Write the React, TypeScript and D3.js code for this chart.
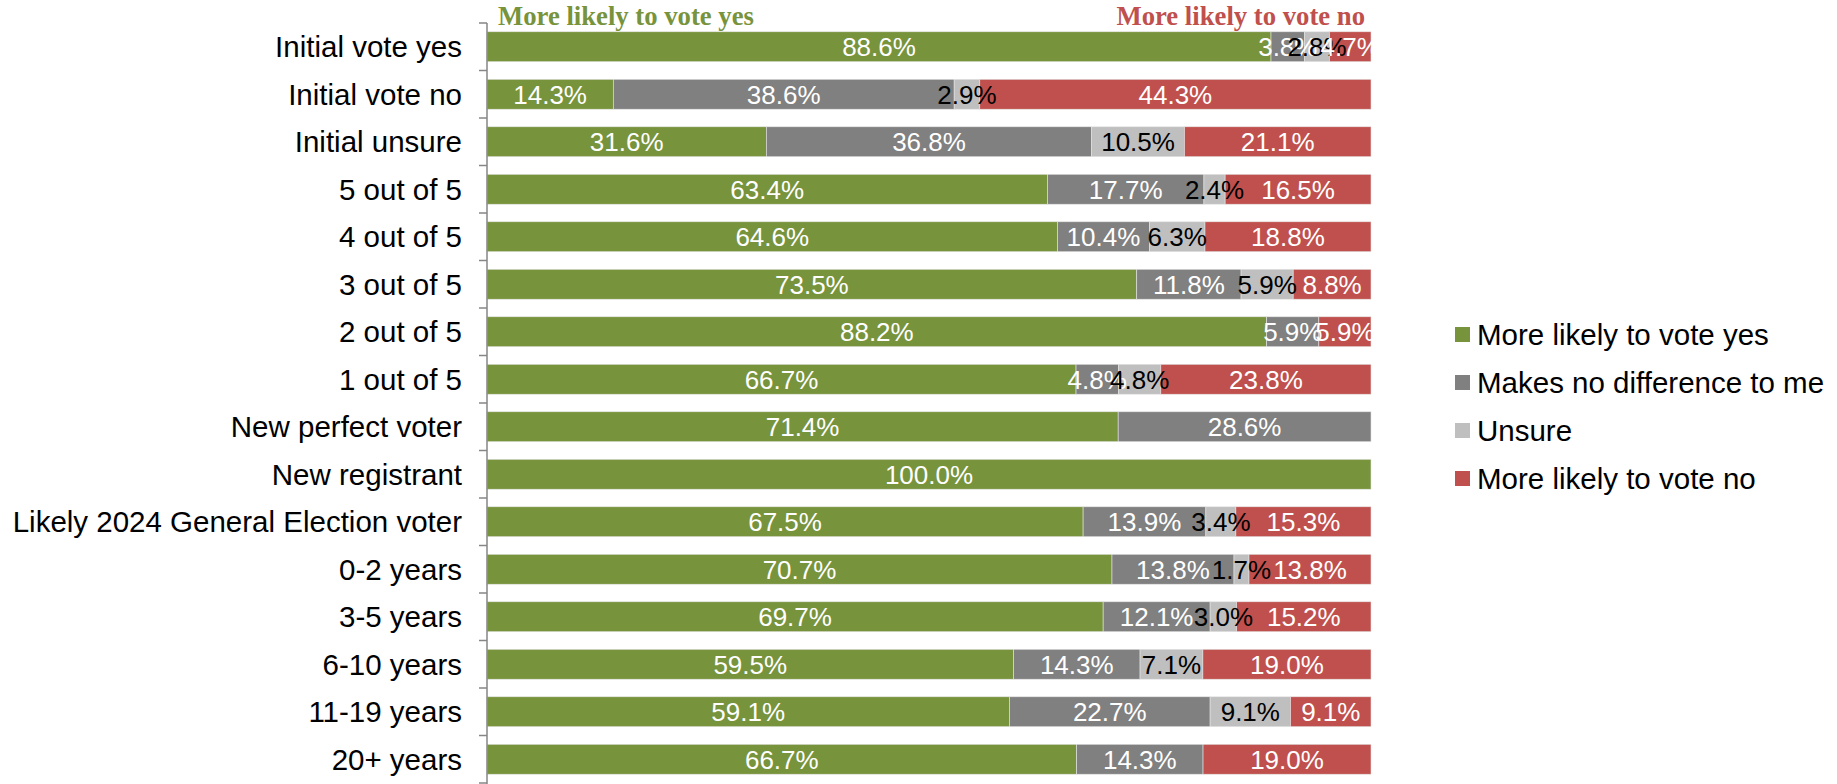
import React, { useEffect, useRef } from "react";
import * as d3 from "d3";

const categories = [
  "Initial vote yes",
  "Initial vote no",
  "Initial unsure",
  "5 out of 5",
  "4 out of 5",
  "3 out of 5",
  "2 out of 5",
  "1 out of 5",
  "New perfect voter",
  "New registrant",
  "Likely 2024 General Election voter",
  "0-2 years",
  "3-5 years",
  "6-10 years",
  "11-19 years",
  "20+ years",
];

const seriesNames = [
  "More likely to vote yes",
  "Makes no difference to me",
  "Unsure",
  "More likely to vote no",
];

const voteYes = [88.6, 14.3, 31.6, 63.4, 64.6, 73.5, 88.2, 66.7, 71.4, 100.0, 67.5, 70.7, 69.7, 59.5, 59.1, 66.7];
const noDifference = [3.8, 38.6, 36.8, 17.7, 10.4, 11.8, 5.9, 4.8, 28.6, 0, 13.9, 13.8, 12.1, 14.3, 22.7, 14.3];
const unsure = [2.8, 2.9, 10.5, 2.4, 6.3, 5.9, 0, 4.8, 0, 0, 3.4, 1.7, 3.0, 7.1, 9.1, 0];
const voteNo = [4.7, 44.3, 21.1, 16.5, 18.8, 8.8, 5.9, 23.8, 0, 0, 15.3, 13.8, 15.2, 19.0, 9.1, 19.0];

const colors = ["#77933C", "#808080", "#BFBFBF", "#C0504D"];
const labelColors = ["#ffffff", "#ffffff", "#000000", "#ffffff"];

const W = 1837;
const H = 784;

export default function App() {
  const ref = useRef<SVGSVGElement>(null);

  useEffect(() => {
    const svg = d3.select(ref.current);
    svg.selectAll("*").remove();

    const left = 487;
    const right = 1371;
    const top = 23;
    const bottom = 783;

    const keys = ["yes", "nodiff", "unsure", "no"];
    const rows = categories.map((c, i) => ({
      cat: c,
      yes: voteYes[i],
      nodiff: noDifference[i],
      unsure: unsure[i],
      no: voteNo[i],
    }));

    // 100% stacked, so rows summing to 99.9 / 100.1 still fill the width
    const stack = d3
      .stack<any>()
      .keys(keys)
      .offset(d3.stackOffsetExpand);
    const series = stack(rows);

    const x = d3.scaleLinear().domain([0, 1]).range([left, right]);
    const y = d3
      .scaleBand()
      .domain(categories)
      .range([top, bottom])
      .paddingInner(0.37)
      .paddingOuter(0.185);

    const font = "'Liberation Sans', Arial, sans-serif";

    // bars
    series.forEach((s, si) => {
      const g = svg.append("g");
      g.selectAll("rect")
        .data(s)
        .join("rect")
        .attr("x", (d) => x(d[0]))
        .attr("y", (d) => y(d.data.cat)!)
        .attr("width", (d) => Math.max(0, x(d[1]) - x(d[0])))
        .attr("height", y.bandwidth())
        .attr("fill", colors[si])
        .attr("stroke", "#e4e4e4")
        .attr("stroke-width", 0.6);
    });

    // value labels
    series.forEach((s, si) => {
      const key = keys[si];
      svg
        .append("g")
        .selectAll("text")
        .data(s.filter((d) => d.data[key] > 0))
        .join("text")
        .attr("x", (d) => (x(d[0]) + x(d[1])) / 2)
        .attr("y", (d) => y(d.data.cat)! + y.bandwidth() / 2)
        .attr("dy", "0.36em")
        .attr("text-anchor", "middle")
        .attr("fill", labelColors[si])
        .style("font-family", font)
        .style("font-size", "26px")
        .text((d) => d.data[key].toFixed(1) + "%");
    });

    // category axis (ticks between categories)
    const axis = svg.append("g");
    axis
      .append("line")
      .attr("x1", left)
      .attr("x2", left)
      .attr("y1", top)
      .attr("y2", H)
      .attr("stroke", "#868686")
      .attr("stroke-width", 1.5);
    const step = y.step();
    const ticks = d3.range(categories.length + 1).map((i) => top + i * step);
    axis
      .selectAll("line.tick")
      .data(ticks)
      .join("line")
      .attr("class", "tick")
      .attr("x1", left - 8)
      .attr("x2", left)
      .attr("y1", (d) => d)
      .attr("y2", (d) => d)
      .attr("stroke", "#868686")
      .attr("stroke-width", 1.5);

    axis
      .selectAll("text")
      .data(categories)
      .join("text")
      .attr("x", left - 25)
      .attr("y", (d) => y(d)! + y.bandwidth() / 2)
      .attr("dy", "0.36em")
      .attr("text-anchor", "end")
      .attr("fill", "#000")
      .style("font-family", font)
      .style("font-size", "29.5px")
      .text((d) => d);

    // header labels
    const serif = "'Liberation Serif', 'DejaVu Serif', serif";
    svg
      .append("text")
      .attr("x", left + 11)
      .attr("y", 25)
      .attr("fill", colors[0])
      .style("font-family", serif)
      .style("font-weight", "bold")
      .style("font-size", "26.7px")
      .text("More likely to vote yes");
    svg
      .append("text")
      .attr("x", right - 6)
      .attr("y", 25)
      .attr("text-anchor", "end")
      .attr("fill", colors[3])
      .style("font-family", serif)
      .style("font-weight", "bold")
      .style("font-size", "26.7px")
      .text("More likely to vote no");

    // legend
    const legend = svg
      .append("g")
      .selectAll("g")
      .data(seriesNames)
      .join("g")
      .attr("transform", (d, i) => `translate(1455, ${334 + i * 48})`);
    legend
      .append("rect")
      .attr("x", 0)
      .attr("y", -7)
      .attr("width", 15)
      .attr("height", 15)
      .attr("fill", (d, i) => colors[i]);
    legend
      .append("text")
      .attr("x", 22)
      .attr("y", 0)
      .attr("dy", "0.36em")
      .attr("fill", "#000")
      .style("font-family", font)
      .style("font-size", "29.5px")
      .text((d) => d);
  }, []);

  return (
    <svg
      ref={ref}
      width={W}
      height={H}
      style={{ position: "absolute", left: 0, top: 0, background: "#fff" }}
    ></svg>
  );
}
